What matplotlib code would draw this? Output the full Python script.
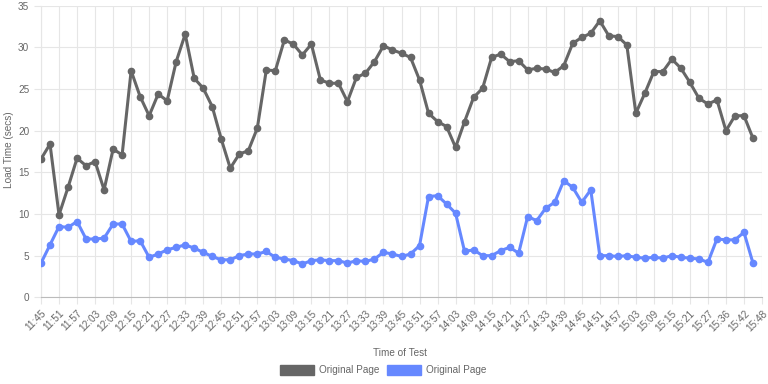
import matplotlib
matplotlib.use('Agg')
import matplotlib.pyplot as plt
from matplotlib.patches import Patch

plt.rcParams['font.family'] = ['Liberation Sans', 'DejaVu Sans']

tick_labels = ['11:45', '11:51', '11:57', '12:03', '12:09', '12:15', '12:21', '12:27',
               '12:33', '12:39', '12:45', '12:51', '12:57', '13:03', '13:09', '13:15',
               '13:21', '13:27', '13:33', '13:39', '13:45', '13:51', '13:57', '14:03',
               '14:09', '14:15', '14:21', '14:27', '14:33', '14:39', '14:45', '14:51',
               '14:57', '15:03', '15:09', '15:15', '15:21', '15:27', '15:36', '15:42',
               '15:48']

gray_series = [16.6, 18.4, 9.9, 13.2, 16.7, 15.8, 16.3, 12.9, 17.8, 17.1,
               27.2, 24.1, 21.8, 24.4, 23.6, 28.3, 31.6, 26.3, 25.1, 22.9,
               19.0, 15.5, 17.2, 17.6, 20.3, 27.3, 27.2, 30.9, 30.4, 29.1,
               30.4, 26.1, 25.7, 25.7, 23.5, 26.4, 26.9, 28.3, 30.2, 29.7,
               29.3, 28.8, 26.1, 22.1, 21.1, 20.5, 18.0, 21.1, 24.0, 25.1,
               28.8, 29.2, 28.3, 28.4, 27.3, 27.5, 27.4, 27.0, 27.8, 30.5,
               31.2, 31.7, 33.2, 31.4, 31.3, 30.3, 22.1, 24.5, 27.1, 27.1,
               28.6, 27.5, 25.8, 23.9, 23.2, 23.7, 20.0, 21.8, 21.8, 19.1]

blue_series = [4.1, 6.3, 8.5, 8.4, 9.1, 7.0, 7.0, 7.1, 8.8, 8.8,
               6.7, 6.8, 4.8, 5.2, 5.7, 6.0, 6.3, 5.9, 5.4, 4.9,
               4.5, 4.5, 5.0, 5.2, 5.2, 5.5, 4.8, 4.6, 4.4, 4.0,
               4.4, 4.5, 4.4, 4.4, 4.1, 4.4, 4.3, 4.6, 5.4, 5.2,
               4.9, 5.2, 6.2, 12.1, 12.2, 11.2, 10.1, 5.5, 5.7, 5.0,
               5.0, 5.6, 6.0, 5.3, 9.7, 9.2, 10.7, 11.4, 14.0, 13.2,
               11.4, 12.9, 5.0, 5.0, 4.9, 5.0, 4.8, 4.7, 4.8, 4.7,
               5.0, 4.8, 4.7, 4.6, 4.2, 7.0, 6.9, 6.9, 7.8, 4.1]

gray_color = '#666666'
blue_color = '#6688ff'
text_color = '#666666'
fs = 7.2

fig = plt.figure(figsize=(7.68, 3.84), dpi=100)
ax = fig.add_axes([41 / 768, 1 - 297.3 / 384, 721 / 768, 291.5 / 384])

x = list(range(len(gray_series)))
ax.plot(x, gray_series, color=gray_color, lw=2.2, marker='o', ms=4.5, zorder=3)
ax.plot(x, blue_series, color=blue_color, lw=2.2, marker='o', ms=4.5, zorder=3)

ax.set_xlim(0, 2 * (len(tick_labels) - 1))
ax.set_ylim(0, 35)
ax.set_yticks(range(0, 36, 5))
ax.set_xticks(range(0, 2 * len(tick_labels), 2))
ax.set_xticklabels(tick_labels, rotation=45, ha='right', rotation_mode='anchor')

ax.grid(True, color='#e6e6e6', lw=0.8)
ax.set_axisbelow(True)
for side in ['top', 'right']:
    ax.spines[side].set_visible(False)
ax.spines['left'].set_color('#e6e6e6')
ax.spines['bottom'].set_color('#bbbbbb')
ax.tick_params(axis='both', colors='#e6e6e6', labelcolor=text_color, labelsize=fs,
               length=5, width=0.8)
ax.tick_params(axis='x', pad=3)

ax.set_ylabel('Load Time (secs)', color=text_color, fontsize=fs)
ax.yaxis.set_label_coords(-0.038, 0.505)
ax.set_xlabel('Time of Test', color=text_color, fontsize=fs)
ax.xaxis.set_label_coords(0.498, -0.174)

handles = [Patch(facecolor=gray_color, edgecolor=gray_color, label='Original Page'),
           Patch(facecolor=blue_color, edgecolor=blue_color, label='Original Page')]
leg = fig.legend(handles=handles, loc='center', bbox_to_anchor=(383 / 768, 1 - 370 / 384),
                 ncol=2, frameon=False, fontsize=fs, handlelength=3.4,
                 handleheight=1.2, columnspacing=0.7, handletextpad=0.5)
for t in leg.get_texts():
    t.set_color(text_color)

fig.savefig('out.png', dpi=100)
